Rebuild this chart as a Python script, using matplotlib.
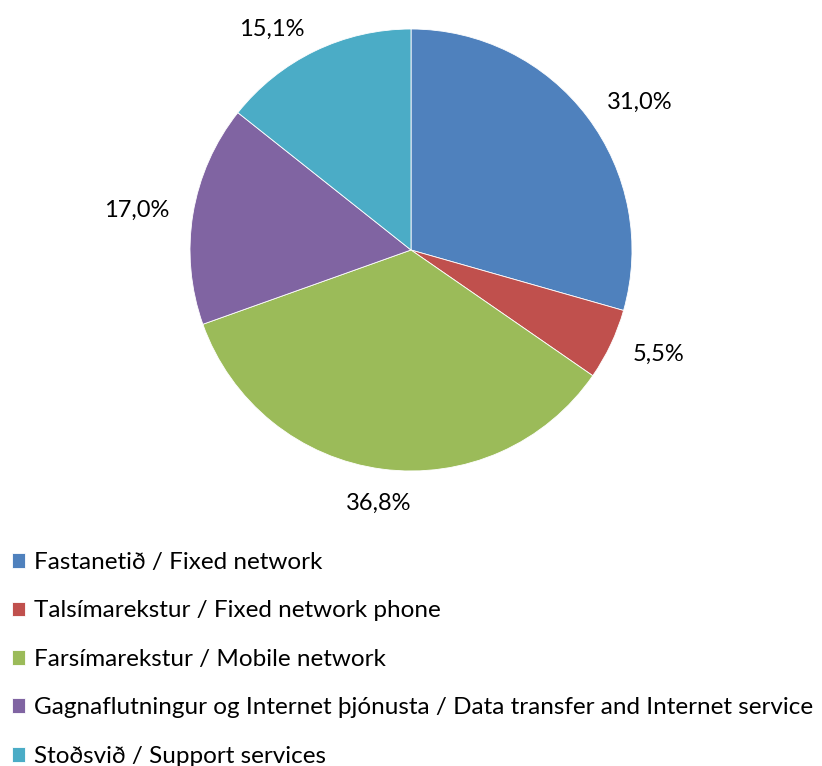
import matplotlib.pyplot as plt

plt.rcParams['font.family'] = ['Lato', 'DejaVu Sans']

# 数据
categories = ['Fastanetið / Fixed network',
              'Talsímarekstur / Fixed network phone',
              'Farsímarekstur / Mobile network',
              'Gagnaflutningur og Internet þjónusta / Data transfer and Internet service',
              'Stoðsvið / Support services']
values = [31.0, 5.5, 36.8, 17.0, 15.1]
value_labels = ['31,0%', '5,5%', '36,8%', '17,0%', '15,1%']
colors = ['#4F81BD', '#C0504D', '#9BBB59', '#8064A2', '#4BACC6']

W, H = 822, 766
fig = plt.figure(figsize=(W / 100, H / 100), dpi=100)

# 饼图区域（像素换算）
cx, cy, r = 411, 250, 221
ax = fig.add_axes([(cx - r) / W, (H - cy - r) / H, 2 * r / W, 2 * r / H])

wedges, texts = ax.pie(values, labels=value_labels, colors=colors,
                       startangle=90, counterclock=False, radius=1,
                       labeldistance=1.11,
                       wedgeprops=dict(edgecolor='white', linewidth=0.6),
                       textprops=dict(fontsize=17, color='black'))
# 底部标签居中对齐
texts[2].set_ha('center')
texts[2].set_va('top')
ax.set_xlim(-1, 1)
ax.set_ylim(-1, 1)
ax.set_aspect('equal')
ax.axis('off')

# 图例
fs = 17.5
fig.legend(wedges, categories, loc='upper left',
           bbox_to_anchor=(12 / W, 1 - 552 / H),
           frameon=False, fontsize=fs, borderpad=0, borderaxespad=0,
           handlelength=0.55, handleheight=0.55, handletextpad=0.35,
           labelspacing=1.13)

plt.savefig('out.png', dpi=100)
